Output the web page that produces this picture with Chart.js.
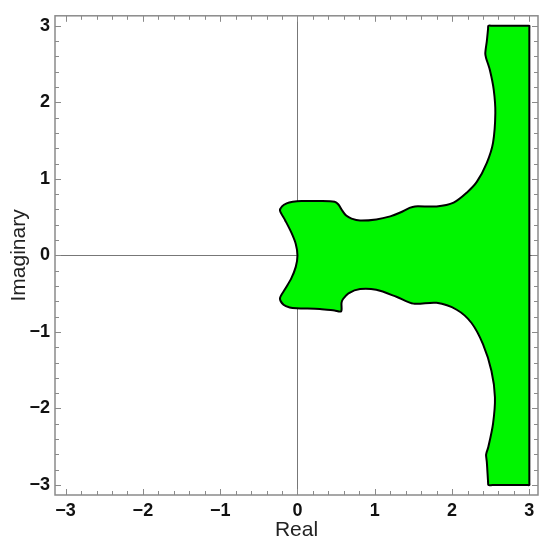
<!DOCTYPE html>
<html>
<head>
<meta charset="utf-8">
<script src="https://cdn.jsdelivr.net/npm/chart.js@4.4.0/dist/chart.umd.min.js"></script>
<style>
html,body{margin:0;padding:0;background:#fff;}
#wrap{width:550px;height:550px;}
</style>
</head>
<body>
<div id="wrap"><canvas id="c" width="550" height="550"></canvas></div>
<script>
// Axis ticks
const tickValues = [-3, -2, -1, 0, 1, 2, 3];
const minorStep = 0.2;
const xMin = -3.137, xMax = 3.112, yMin = -3.13, yMax = 3.13;

// Right edge of region (Re = 3), top part
const edgeTopRe = [3.0, 3.0, 3.0, 2.97, 2.52];
const edgeTopIm = [0.0, 2.97, 3.0, 3.0, 3.0];

// Upper boundary, from top going down/left to the lobe at the origin
const upperRe = [2.47, 2.466, 2.45, 2.43, 2.44, 2.49, 2.54, 2.56, 2.53, 2.45, 2.32, 2.19, 2.02, 1.80, 1.52, 1.45, 1.33, 1.20, 1.02, 0.81, 0.70, 0.63, 0.58, 0.53, 0.48, 0.29, 0.05, -0.06, -0.14, -0.20, -0.226, -0.16, -0.08, -0.022, 0.0];
const upperIm = [3.0, 2.96, 2.80, 2.64, 2.58, 2.42, 2.16, 1.86, 1.47, 1.21, 0.96, 0.82, 0.69, 0.64, 0.64, 0.62, 0.56, 0.51, 0.47, 0.455, 0.48, 0.52, 0.585, 0.665, 0.70, 0.71, 0.71, 0.70, 0.68, 0.64, 0.585, 0.46, 0.30, 0.15, 0.0];

// Lower boundary, from the origin going right/down to the bottom
const lowerRe = [-0.022, -0.08, -0.16, -0.226, -0.18, -0.10, -0.01, 0.29, 0.48, 0.565, 0.57, 0.59, 0.66, 0.81, 1.02, 1.28, 1.50, 1.80, 2.06, 2.25, 2.40, 2.51, 2.555, 2.53, 2.47, 2.445, 2.44, 2.45, 2.466, 2.47];
const lowerIm = [-0.15, -0.30, -0.44, -0.56, -0.645, -0.68, -0.69, -0.70, -0.72, -0.73, -0.62, -0.57, -0.495, -0.44, -0.45, -0.54, -0.63, -0.62, -0.71, -0.88, -1.16, -1.51, -1.855, -2.20, -2.50, -2.58, -2.61, -2.70, -2.96, -3.0];

// Right edge of region, bottom part
const edgeBotRe = [2.52, 2.97, 3.0, 3.0, 3.0];
const edgeBotIm = [-3.0, -3.0, -3.0, -2.97, 0.0];

function pts(re, im) { return re.map((r, i) => ({x: r, y: im[i]})); }
const outline = [].concat(
  pts(edgeTopRe, edgeTopIm),
  pts(upperRe, upperIm),
  pts(lowerRe, lowerIm),
  pts(edgeBotRe, edgeBotIm)
);

function fmt(v) { return v < 0 ? '\u2212' + Math.abs(v) : String(v); }

const frameTicks = {
  id: 'frameTicks',
  afterDraw(chart) {
    const {ctx, chartArea: a, scales: {x, y}} = chart;
    ctx.save();
    ctx.strokeStyle = '#8a8a8a';
    ctx.lineWidth = 1;
    const first = tickValues[0], last = tickValues[tickValues.length - 1];
    const n = Math.round((last - first) / minorStep);
    ctx.beginPath();
    for (let i = 0; i <= n; i++) {
      const v = first + i * minorStep;
      const major = Math.abs(v - Math.round(v)) < 1e-6;
      const len = major ? 6 : 4;
      const px = Math.round(x.getPixelForValue(v)) + 0.5;
      ctx.moveTo(px, a.bottom); ctx.lineTo(px, a.bottom - len);
      ctx.moveTo(px, a.top); ctx.lineTo(px, a.top + len);
      const py = Math.round(y.getPixelForValue(v)) + 0.5;
      ctx.moveTo(a.left, py); ctx.lineTo(a.left + len, py);
      ctx.moveTo(a.right, py); ctx.lineTo(a.right - len, py);
    }
    ctx.stroke();
    ctx.lineWidth = 1.5;
    ctx.strokeStyle = '#8a8a8a';
    ctx.strokeRect(a.left, a.top, a.right - a.left, a.bottom - a.top);
    ctx.restore();
  }
};

const axisLine = (ctx) => (ctx.tick && ctx.tick.value === 0) ? '#777777' : 'rgba(0,0,0,0)';

new Chart(document.getElementById('c'), {
  type: 'scatter',
  data: {
    datasets: [{
      data: outline,
      showLine: true,
      fill: 'shape',
      backgroundColor: 'rgb(0,245,0)',
      borderColor: '#000000',
      borderWidth: 2,
      tension: 0.28,
      pointRadius: 0,
      pointHoverRadius: 0
    }]
  },
  options: {
    responsive: false,
    devicePixelRatio: 1,
    animation: false,
    events: [],
    layout: {padding: {left: 0, top: 12, right: 12, bottom: 0}},
    plugins: {legend: {display: false}, tooltip: {enabled: false}},
    scales: {
      x: {
        type: 'linear', position: 'bottom', min: xMin, max: xMax, z: 1,
        afterBuildTicks: s => { s.ticks = tickValues.map(v => ({value: v})); },
        afterFit: s => { s.height = 55; },
        grid: {color: axisLine, lineWidth: 1, drawTicks: false},
        border: {display: false},
        ticks: {callback: v => fmt(v), color: '#111111', padding: 5, maxRotation: 0, autoSkip: false,
                font: {family: '"Liberation Sans", Arial, sans-serif', size: 18, weight: 'bold'}},
        title: {display: true, text: 'Real', color: '#222222', padding: {top: 0, bottom: 7},
                font: {family: '"Liberation Sans", Arial, sans-serif', size: 21, weight: 'normal'}}
      },
      y: {
        type: 'linear', position: 'left', min: yMin, max: yMax, z: 1,
        afterBuildTicks: s => { s.ticks = tickValues.map(v => ({value: v})); },
        afterFit: s => { s.width = 55; },
        grid: {color: axisLine, lineWidth: 1, drawTicks: false},
        border: {display: false},
        ticks: {callback: v => fmt(v), color: '#111111', padding: 5, autoSkip: false,
                font: {family: '"Liberation Sans", Arial, sans-serif', size: 18, weight: 'bold'}},
        title: {display: true, text: 'Imaginary', color: '#222222', padding: {top: 7, bottom: 0},
                font: {family: '"Liberation Sans", Arial, sans-serif', size: 21, weight: 'normal'}}
      }
    }
  },
  plugins: [frameTicks]
});
</script>
</body>
</html>
